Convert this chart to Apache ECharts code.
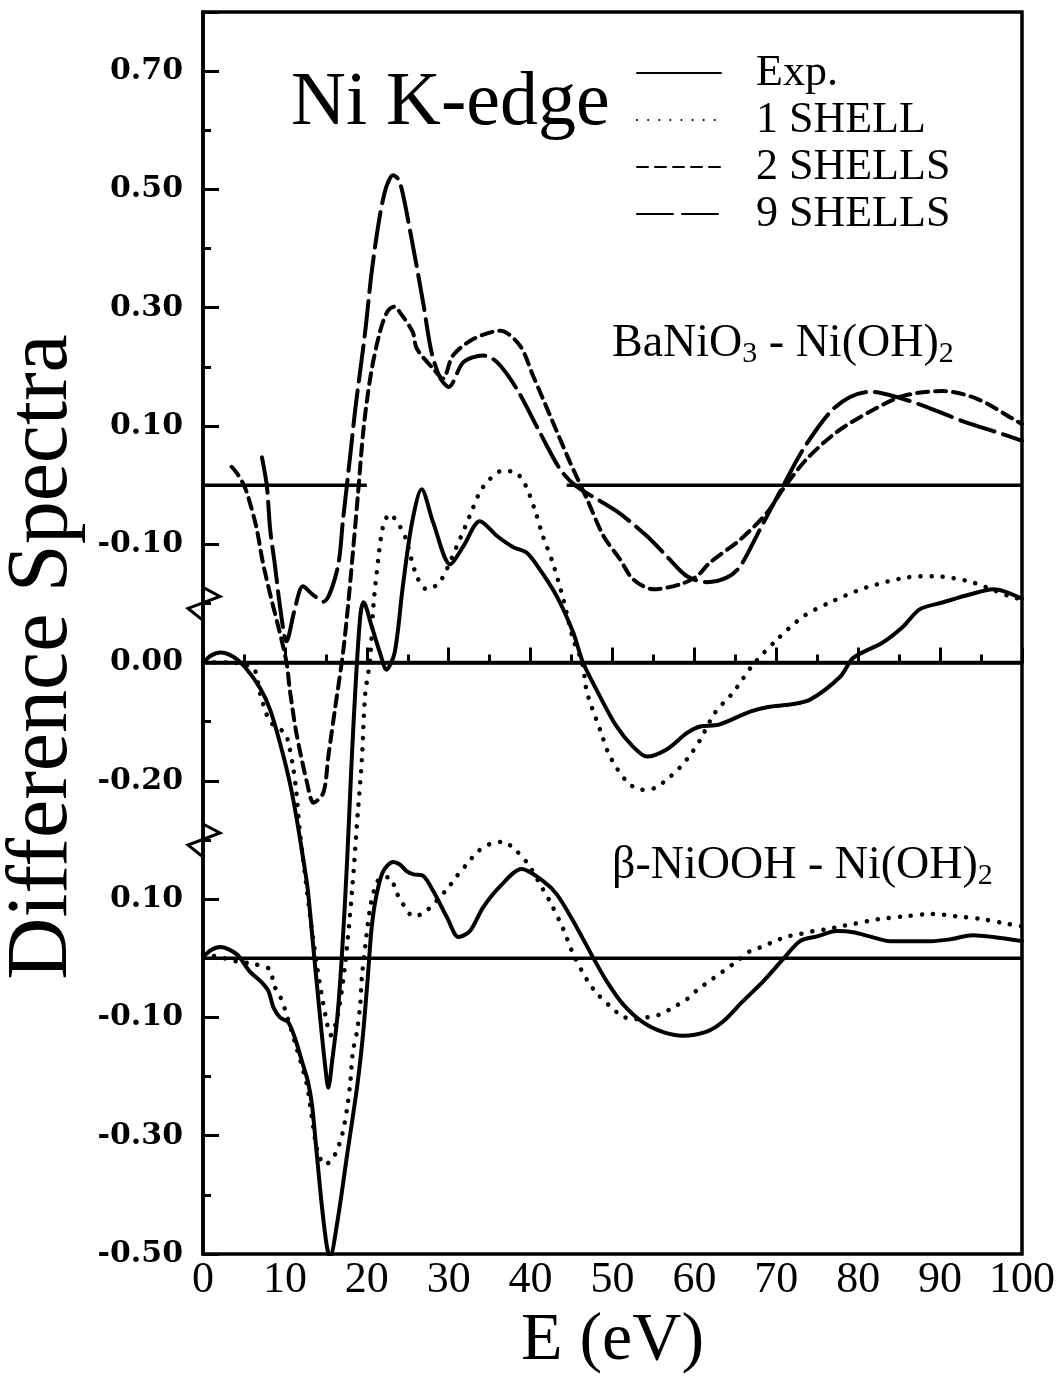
<!DOCTYPE html>
<html>
<head>
<meta charset="utf-8">
<script src="https://cdn.jsdelivr.net/npm/echarts@6/dist/echarts.min.js"></script>
<style>
html, body { margin: 0; padding: 0; background: #fff; }
#main { width: 1060px; height: 1383px; }
</style>
</head>
<body>
<div id="main"></div>
<script>
// panel offsets on the shared y scale
var topOffset = 0.3;
var midOffset = 0;
var botOffset = -0.5;

var xTicks = [0, 10, 20, 30, 40, 50, 60, 70, 80, 90, 100];
var legendNames = ['Exp.', '1 SHELL', '2 SHELLS', '9 SHELLS'];

// BaNiO3 - Ni(OH)2, upper traces (zero at the upper baseline)
var ba2Shells = [[3.5,0.031],[4.2,0.019],[5,0.0],[5.5,-0.019],[6.5,-0.07],[7.3,-0.13],[8.3,-0.19],[9.3,-0.245],
  [10.2,-0.3],[10.6,-0.346],[11.4,-0.419],[12.7,-0.503],[13.5,-0.537],[14.7,-0.52],[15.3,-0.459],[16.1,-0.38],
  [17.1,-0.283],[17.7,-0.205],[18.3,-0.114],[18.9,-0.019],[19.6,0.095],[20.5,0.188],[21.6,0.259],[22.5,0.293],
  [23.4,0.302],[24,0.293],[25.6,0.259],[26.1,0.231],[28.1,0.197],[29.3,0.18],[30.5,0.219],[33,0.247],[36.3,0.261],
  [38.7,0.236],[40.3,0.185],[42.4,0.117],[44.8,0.039],[46.9,-0.024],[48.9,-0.086],[50.9,-0.125],[52.5,-0.159],
  [55,-0.176],[58.2,-0.168],[60.3,-0.154],[61.9,-0.131],[65.6,-0.092],[68.9,-0.046],[70.8,-0.007],[73.7,0.044],
  [77.4,0.09],[81.4,0.124],[85.5,0.151],[90.4,0.159],[94.5,0.146],[98.9,0.112],[100,0.103]];

var ba9Shells = [[7.2,0.047],[7.8,-0.002],[8.2,-0.075],[8.8,-0.137],[9.4,-0.205],[10.2,-0.264],[11.2,-0.21],
  [12.2,-0.171],[13.4,-0.185],[14.7,-0.197],[16.4,-0.142],[17.1,-0.058],[18,0.053],[18.6,0.129],[19.8,0.259],
  [20.6,0.361],[21.6,0.456],[22.4,0.505],[23.2,0.524],[24,0.514],[25.3,0.429],[26.9,0.307],[27.9,0.225],[29,0.18],
  [30,0.166],[31.8,0.208],[34.2,0.219],[35.9,0.208],[38.3,0.163],[41.1,0.09],[43.6,0.027],[45.6,-0.002],
  [50.5,-0.044],[54.2,-0.086],[56.6,-0.12],[59.1,-0.154],[61.5,-0.164],[64,-0.156],[65.6,-0.137],[68,-0.075],
  [70.8,-0.002],[73.3,0.061],[76.6,0.124],[79,0.149],[81.4,0.158],[84.7,0.149],[88.4,0.132],[92.8,0.108],
  [97.7,0.086],[100,0.075]];

// BaNiO3 - Ni(OH)2, middle traces
var baExp = [[0,0],[1,0.012],[2.1,0.017],[3.7,0.01],[5.1,-0.007],[7,-0.044],[8.2,-0.08],[9.4,-0.136],
  [10.6,-0.203],[11.4,-0.261],[12.2,-0.329],[12.8,-0.385],[13.5,-0.486],[14.3,-0.6],[14.9,-0.68],[15.3,-0.719],
  [15.8,-0.67],[16.4,-0.6],[17,-0.486],[17.6,-0.334],[18.1,-0.181],[18.6,-0.046],[19.2,0.078],[19.6,0.102],
  [20.6,0.061],[21.6,0.017],[22.4,-0.012],[23.4,0.017],[24.4,0.129],[25.5,0.235],[26.7,0.293],[28.1,0.237],
  [30.2,0.166],[31.8,0.197],[33.8,0.239],[35.9,0.214],[37.9,0.195],[39.5,0.186],[41.1,0.158],[43.2,0.112],
  [45.2,0.051],[46.4,0],[48.5,-0.058],[50.5,-0.108],[52.5,-0.142],[54.2,-0.159],[56.6,-0.147],[59.1,-0.119],
  [60.7,-0.108],[63,-0.105],[66.8,-0.083],[69,-0.075],[71.7,-0.071],[74.1,-0.063],[77.8,-0.024],[79.4,0.008],
  [83,0.034],[85.5,0.061],[87.5,0.09],[90.4,0.102],[93.6,0.115],[96.5,0.124],[100,0.108]];

var ba1Shell = [[0,0],[3,0],[5,-0.003],[6.3,-0.012],[7,-0.054],[8.2,-0.1],[10,-0.119],[10.4,-0.134],[11,-0.176],
  [11.4,-0.22],[11.8,-0.283],[12.2,-0.329],[13,-0.42],[14,-0.52],[15,-0.6],[15.6,-0.63],[16.4,-0.6],[17.3,-0.517],
  [18.2,-0.386],[18.9,-0.254],[19.4,-0.164],[19.8,-0.054],[20.4,0.005],[20.8,0.095],[21.4,0.175],[22,0.231],
  [22.8,0.251],[24,0.231],[24.7,0.212],[26.1,0.146],[27.3,0.124],[28.9,0.136],[31,0.197],[32.6,0.249],[33.8,0.288],
  [35,0.31],[36.5,0.324],[38.1,0.322],[39.3,0.302],[40.5,0.259],[41.5,0.214],[42.7,0.169],[44,0.107],[45.2,0.039],
  [46.3,0],[46.9,-0.051],[48.5,-0.114],[49.7,-0.159],[51.8,-0.202],[53.6,-0.215],[55.2,-0.212],[56.6,-0.198],
  [58.2,-0.178],[59.5,-0.156],[60.7,-0.131],[62.5,-0.085],[64.7,-0.051],[67.2,-0.003],[70.1,0.039],[73.3,0.078],
  [76.6,0.102],[81,0.127],[86,0.144],[89.1,0.146],[93.6,0.137],[98.5,0.112],[100,0.107]];

// beta-NiOOH - Ni(OH)2, lower traces
var niExp = [[0,0.002],[1,0.014],[2.1,0.019],[4.1,0.007],[5.7,-0.022],[7.2,-0.041],[8,-0.056],[8.6,-0.083],
  [9.4,-0.1],[10.4,-0.108],[11.2,-0.134],[12.1,-0.175],[12.8,-0.208],[13.3,-0.247],[13.9,-0.332],[14.5,-0.417],
  [15.1,-0.485],[15.5,-0.505],[16.4,-0.446],[17.6,-0.332],[18.8,-0.219],[19.5,-0.134],[20.1,-0.036],[20.6,0.053],
  [21.2,0.108],[22,0.147],[23.2,0.163],[24,0.159],[24.9,0.147],[25.7,0.142],[26.9,0.139],[28.1,0.114],[29.8,0.069],
  [31.2,0.036],[32.6,0.046],[34.2,0.086],[36.3,0.122],[38.9,0.151],[41.5,0.131],[43.2,0.108],[45.2,0.063],
  [47.6,0.002],[49.3,-0.039],[51.3,-0.078],[53.7,-0.108],[56.2,-0.125],[58.6,-0.131],[61.5,-0.124],[63.5,-0.107],
  [65.9,-0.073],[68.4,-0.039],[70.8,-0.002],[72.9,0.029],[75,0.037],[77.4,0.046],[79.4,0.044],[81.4,0.037],
  [83.9,0.029],[86.3,0.029],[88.8,0.029],[91.2,0.032],[94,0.039],[96.5,0.036],[100,0.029]];

var ni1Shell = [[0,0.007],[2,0.002],[4,-0.005],[6.3,-0.01],[8.2,-0.019],[8.6,-0.044],[9.4,-0.064],[10,-0.086],
  [11.3,-0.146],[12.7,-0.215],[13.3,-0.27],[14,-0.327],[14.9,-0.349],[15.9,-0.337],[16.5,-0.319],[17,-0.298],
  [17.6,-0.253],[18,-0.208],[18.3,-0.158],[18.8,-0.124],[19.2,-0.078],[19.4,-0.032],[19.8,0.019],[20.5,0.092],
  [21.5,0.134],[22.8,0.137],[23.6,0.112],[24.4,0.092],[25.7,0.071],[27.1,0.078],[29.8,0.117],[31,0.139],
  [32.2,0.159],[33.6,0.181],[35,0.193],[36.6,0.197],[38.3,0.181],[39.7,0.159],[41.5,0.117],[42.4,0.095],[44,0.049],
  [45.2,0.007],[47,-0.039],[48.2,-0.061],[49.7,-0.081],[51.2,-0.098],[52.7,-0.103],[54.2,-0.1],[55.8,-0.095],
  [57.4,-0.083],[59.1,-0.069],[60.4,-0.053],[62.1,-0.036],[63.5,-0.022],[65.2,-0.005],[66.8,0.012],[68.4,0.02],
  [69.8,0.029],[71.4,0.037],[72.9,0.041],[74.5,0.046],[76.2,0.049],[77.8,0.054],[79.4,0.058],[82.4,0.066],
  [85.7,0.071],[89,0.075],[92,0.071],[95.2,0.066],[98.3,0.058],[100,0.054]];

// zero lines of each panel, as [from, to] in eV
var topBaseline = [[0, 20], [44.4, 100]];
var midBaseline = [[0, 100]];
var botBaseline = [[0, 100]];

var serif = 'Liberation Serif';
var solid = 'solid';
var dotted = [0.1, 11];
var shortDash = [11, 7];
var longDash = [36, 9];

function curve(name, pts, offset, dash) {
  return {
    name: name,
    type: 'line',
    data: pts.map(function (p) { return [p[0], +(p[1] + offset).toFixed(4)]; }),
    symbol: 'none',
    smooth: 0.3,
    silent: true,
    itemStyle: { color: '#000' },
    lineStyle: { color: '#000', width: dash === dotted ? 4.5 : 4, type: dash, cap: 'round' }
  };
}

function baseline(segs, offset) {
  return segs.map(function (s) {
    return {
      type: 'line',
      data: [[s[0], offset], [s[1], offset]],
      symbol: 'none',
      silent: true,
      lineStyle: { color: '#000', width: 3.5 }
    };
  });
}

function yLabel(v) {
  var r = Math.round(v * 10) / 10;
  if (r > 1.05) return '';
  var lab;
  if (r >= 0.15) lab = r - topOffset;
  else if (r >= -0.25) lab = r - midOffset;
  else lab = r - botOffset;
  lab = Math.round(lab * 100) / 100;
  if (Math.abs(lab) < 1e-9) lab = 0;
  return lab.toFixed(2);
}

var series = [
  curve('Exp.', baExp, midOffset, solid),
  curve('1 SHELL', ba1Shell, midOffset, dotted),
  curve('2 SHELLS', ba2Shells, topOffset, shortDash),
  curve('9 SHELLS', ba9Shells, topOffset, longDash),
  curve('Exp.', niExp, botOffset, solid),
  curve('1 SHELL', ni1Shell, botOffset, dotted)
].concat(baseline(topBaseline, topOffset), baseline(midBaseline, midOffset), baseline(botBaseline, botOffset));

var myChart = echarts.init(document.getElementById('main'));
var option = {
    animation: false,
    backgroundColor: '#fff',
    title: {
        text: 'Ni K-edge',
        left: 286,
        top: 61,
        textStyle: { fontFamily: serif, fontSize: 76, fontWeight: 'normal', color: '#000' }
    },
    legend: {
        data: legendNames,
        orient: 'vertical',
        left: 631,
        top: 45,
        itemWidth: 84,
        itemHeight: 14,
        itemGap: 1,
        selectedMode: false,
        itemStyle: { opacity: 0 },
        textStyle: { fontFamily: serif, fontSize: 44, lineHeight: 46, color: '#000', padding: [0, 0, 0, 30] }
    },
    grid: {
        show: true,
        left: 203,
        right: 38,
        top: 12,
        bottom: 129,
        containLabel: false,
        outerBoundsMode: 'none',
        borderColor: '#000',
        borderWidth: 3.5
    },
    xAxis: {
        type: 'value',
        min: xTicks[0],
        max: xTicks[xTicks.length - 1],
        interval: 10,
        name: 'E (eV)',
        nameLocation: 'middle',
        nameGap: 47,
        nameTextStyle: { fontFamily: serif, fontSize: 68, color: '#000' },
        axisLine: { lineStyle: { color: '#000', width: 3.5 } },
        axisTick: { inside: true, length: 15, lineStyle: { color: '#000', width: 3 } },
        minorTick: { show: true, splitNumber: 2, length: 8, lineStyle: { color: '#000', width: 3 } },
        axisLabel: { fontFamily: serif, fontSize: 44, color: '#000', margin: 4 },
        splitLine: { show: false }
    },
    yAxis: [
        {
            type: 'value',
            min: -1,
            max: 1.1,
            interval: 0.2,
            name: 'Difference Spectra',
            nameLocation: 'middle',
            nameRotate: 90,
            nameGap: 112,
            nameTextStyle: { fontFamily: serif, fontSize: 86, color: '#000', padding: [0, 48, 0, 0] },
            axisLine: { show: true, lineStyle: { color: '#000', width: 3.5 } },
            axisTick: { inside: true, length: 16, lineStyle: { color: '#000', width: 3 } },
            axisLabel: { formatter: yLabel, fontFamily: 'DejaVu Serif', fontWeight: 'bold', fontSize: 30, color: '#000', margin: 20 },
            splitLine: { show: false }
        },
        {
            type: 'value',
            min: -1,
            max: 1.1,
            interval: 0.1,
            position: 'left',
            axisLine: { show: false },
            axisTick: { inside: true, length: 8, lineStyle: { color: '#000', width: 3 } },
            axisLabel: { show: false },
            splitLine: { show: false }
        }
    ],
    series: series
};
myChart.setOption(option);

// panel names and the axis break marks
var breaks = [0.1, -0.3];
var zig = [[0, -16], [17, -7], [-15, 5], [0, 17]];
var graphics = [
    {
        type: 'text', left: 612, top: 321,
        style: {
            text: '{m|BaNiO}{s|3}{m| - Ni(OH)}{s|2}',
            rich: {
                m: { fontFamily: serif, fontSize: 46, fill: '#000' },
                s: { fontFamily: serif, fontSize: 30, fill: '#000', padding: [20, 0, 0, 0] }
            }
        }
    },
    {
        type: 'text', left: 612, top: 843,
        style: {
            text: '{m|\u03b2-NiOOH - Ni(OH)}{s|2}',
            rich: {
                m: { fontFamily: serif, fontSize: 46, fill: '#000' },
                s: { fontFamily: serif, fontSize: 30, fill: '#000', padding: [20, 0, 0, 0] }
            }
        }
    }
];
breaks.forEach(function (b) {
    var c = myChart.convertToPixel({ xAxisIndex: 0, yAxisIndex: 0 }, [0, b]);
    graphics.push({
        type: 'polyline',
        shape: { points: zig.map(function (d) { return [c[0] + d[0], c[1] + d[1]]; }) },
        style: { stroke: '#000', lineWidth: 3, fill: null },
        z: 10
    });
});
myChart.setOption({ graphic: graphics });
</script>
</body>
</html>
